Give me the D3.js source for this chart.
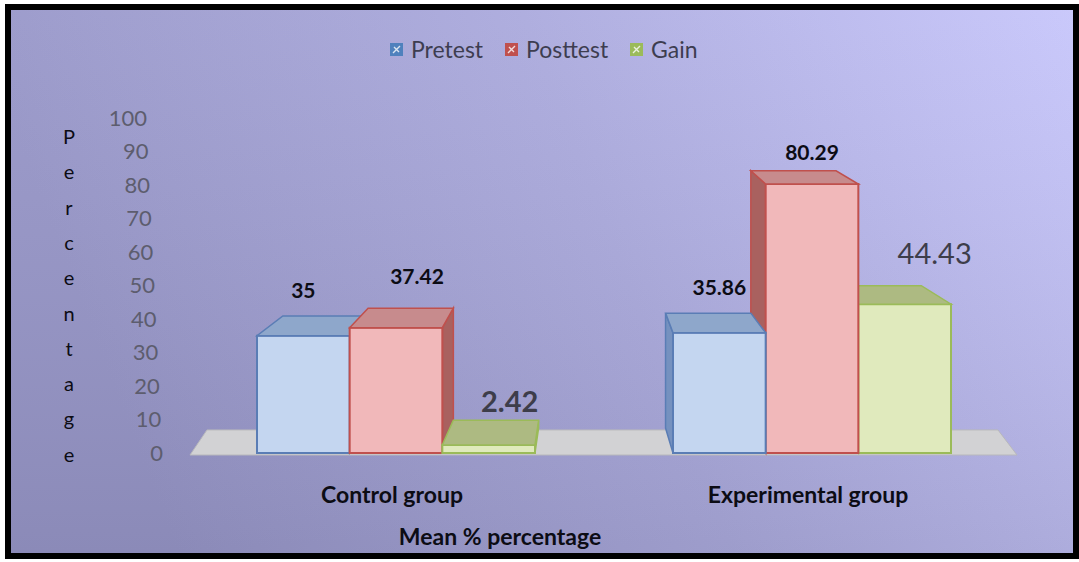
<!DOCTYPE html>
<html>
<head>
<meta charset="utf-8">
<script src="https://cdn.jsdelivr.net/npm/d3@7"></script>
<style>
  html, body { margin: 0; padding: 0; background: #fff; }
  svg { display: block; font-family: Lato, "Open Sans", sans-serif; }
</style>
</head>
<body>
<svg width="1079" height="562"></svg>
<script>
// chart data
const categories = ["Control group", "Experimental group"];
const series = ["Pretest", "Posttest", "Gain"];
const pretest = [35, 35.86];
const posttest = [37.42, 80.29];
const gain = [2.42, 44.43];
const valueLabels = [["35", "37.42", "2.42"], ["35.86", "80.29", "44.43"]];
const yTicks = [0, 10, 20, 30, 40, 50, 60, 70, 80, 90, 100];
const yTitle = "Percentage";
const xTitle = "Mean % percentage";

const svg = d3.select("svg");
const defs = svg.append("defs");

// background gradient
const bg = defs.append("linearGradient").attr("id", "bg").attr("x1", 0).attr("x2", 1).attr("y1", 0.2).attr("y2", 0);
bg.append("stop").attr("offset", 0).attr("stop-color", "#9796c8");
bg.append("stop").attr("offset", 0.5).attr("stop-color", "#abaadd");
bg.append("stop").attr("offset", 1).attr("stop-color", "#c7c6fb");
const shade = defs.append("linearGradient").attr("id", "shade").attr("x1", 0).attr("x2", 0).attr("y1", 0).attr("y2", 1);
shade.append("stop").attr("offset", 0).attr("stop-color", "#fff").attr("stop-opacity", 0.05);
shade.append("stop").attr("offset", 1).attr("stop-color", "#000").attr("stop-opacity", 0.08);

svg.append("rect").attr("width", 1079).attr("height", 562).attr("fill", "#fff");
svg.append("rect").attr("x", 8).attr("y", 7).attr("width", 1068).attr("height", 549)
    .attr("fill", "url(#bg)").attr("stroke", "#000").attr("stroke-width", 6);
svg.append("rect").attr("x", 11).attr("y", 10).attr("width", 1062).attr("height", 543)
    .attr("fill", "url(#shade)");

const colors = {
    Pretest:  { front: "#c4d6f0", top: "#8ea7cb", side: "#7591bf", stroke: "#5a7db5", key: "#4f81bd" },
    Posttest: { front: "#f1b8ba", top: "#c78b8d", side: "#a9615f", stroke: "#c0504d", key: "#c0504d" },
    Gain:     { front: "#e0eabd", top: "#adba82", side: "#8f9f62", stroke: "#9bbb59", key: "#9bbb59" }
};

// scales
const y = d3.scaleLinear().domain([0, 100]).range([453, 118]);
const x0 = d3.scalePoint().domain(categories).range([396, 812]);
const x1 = d3.scaleBand().domain(series).range([-139, 139]);

// simple perspective toward a vanishing point
const vp = [580, -121];
function back(p, kx, ky) {
    return [p[0] + kx * (vp[0] - p[0]), p[1] + ky * (vp[1] - p[1])];
}
const pts = arr => arr.map(p => p.join(",")).join(" ");

// floor
const floorL = 190, floorR = 1017, floorY = 455;
const fb = p => back(p, 0.0435, 0.0435);
svg.append("polygon")
    .attr("points", pts([[floorL, floorY], [floorR, floorY], fb([floorR, floorY]), fb([floorL, floorY])]))
    .attr("fill", "#d2d2d4").attr("stroke", "#b8b8bc").attr("stroke-width", 1);

// y tick labels (slanted with the wall)
svg.append("g").selectAll("text")
    .data(yTicks)
    .enter().append("text")
    .attr("x", d => 163 - (y(0) - y(d)) * 0.048)
    .attr("y", d => y(d))
    .attr("dy", "0.35em")
    .attr("text-anchor", "end")
    .attr("font-size", 22)
    .attr("fill", "#5d5d6e")
    .text(d => d);

// y title, one letter per line
svg.append("g").selectAll("text")
    .data(yTitle.split(""))
    .enter().append("text")
    .attr("x", 69)
    .attr("y", (d, i) => 137 + i * 35.3)
    .attr("dy", "0.35em")
    .attr("text-anchor", "middle")
    .attr("font-size", 20)
    .attr("fill", "#0c0c14")
    .text(d => d);

// bars
const bars = [];
categories.forEach((c, ci) => {
    [pretest, posttest, gain].forEach((vals, si) => {
        bars.push({ cat: c, ci: ci, s: series[si], si: si, v: vals[ci] });
    });
});
bars.forEach(b => {
    b.x = x0(b.cat) + x1(b.s);
    b.w = x1.bandwidth();
    b.cx = b.x + b.w / 2;
});
// paint far-from-centre bars first
bars.sort((a, b) => Math.abs(b.cx - vp[0]) - Math.abs(a.cx - vp[0]));

const bb = p => back(p, 0.08, 0.0435);
const g = svg.append("g");
bars.forEach(b => {
    const col = colors[b.s];
    const yt = y(b.v), yb = y(0);
    const fl = [b.x, yt], fr = [b.x + b.w, yt], bl = [b.x, yb], br = [b.x + b.w, yb];
    const bar = g.append("g");
    // visible side face
    const side = b.cx < vp[0] ? [fr, br, bb(br), bb(fr)] : [fl, bl, bb(bl), bb(fl)];
    bar.append("polygon").attr("points", pts(side))
        .attr("fill", col.side).attr("stroke", col.stroke).attr("stroke-width", 1.5);
    bar.append("polygon").attr("points", pts([fl, fr, br, bl]))
        .attr("fill", col.front).attr("stroke", col.stroke).attr("stroke-width", 2);
    bar.append("polygon").attr("points", pts([fl, fr, bb(fr), bb(fl)]))
        .attr("fill", col.top).attr("stroke", col.stroke).attr("stroke-width", 1.5);
});

// value labels (a few sit off-centre in the original)
const labelNudge = { "0-1": [21, -6], "0-2": [21, 5], "1-1": [0, 14], "1-2": [30, -2] };
const labels = svg.append("g");
bars.forEach(b => {
    const big = b.s === "Gain";
    const n = labelNudge[b.ci + "-" + b.si] || [0, 0];
    labels.append("text")
        .attr("x", b.cx + n[0])
        .attr("y", y(b.v) - 38 + n[1])
        .attr("text-anchor", "middle")
        .attr("font-size", big ? 29 : 21)
        .attr("font-weight", big && b.ci === 1 ? "normal" : "bold")
        .attr("fill", big ? "#3d3d4a" : "#0c0c14")
        .text(valueLabels[b.ci][b.si]);
});

// category labels
svg.append("g").selectAll("text")
    .data(categories)
    .enter().append("text")
    .attr("x", d => x0(d) - 4)
    .attr("y", 503)
    .attr("text-anchor", "middle")
    .attr("font-size", 23)
    .attr("font-weight", "bold")
    .attr("fill", "#0c0c14")
    .text(d => d);

svg.append("text")
    .attr("x", 500).attr("y", 545)
    .attr("text-anchor", "middle")
    .attr("font-size", 23)
    .attr("font-weight", "bold")
    .attr("fill", "#0c0c14")
    .text(xTitle);

// legend
const legendX = [390, 505, 630];
const legend = svg.append("g");
series.forEach((s, i) => {
    const lg = legend.append("g").attr("transform", `translate(${legendX[i]},43)`);
    lg.append("rect").attr("width", 13).attr("height", 13).attr("fill", colors[s].key);
    lg.append("path").attr("d", "M3,10L10,3M4,4L9,9").attr("stroke", "#fff").attr("stroke-width", 1.4).attr("opacity", 0.8);
    lg.append("text").attr("x", 21).attr("y", 7).attr("dy", "0.35em")
        .attr("font-size", 23).attr("fill", "#3d3d50").text(s);
});
</script>
</body>
</html>
